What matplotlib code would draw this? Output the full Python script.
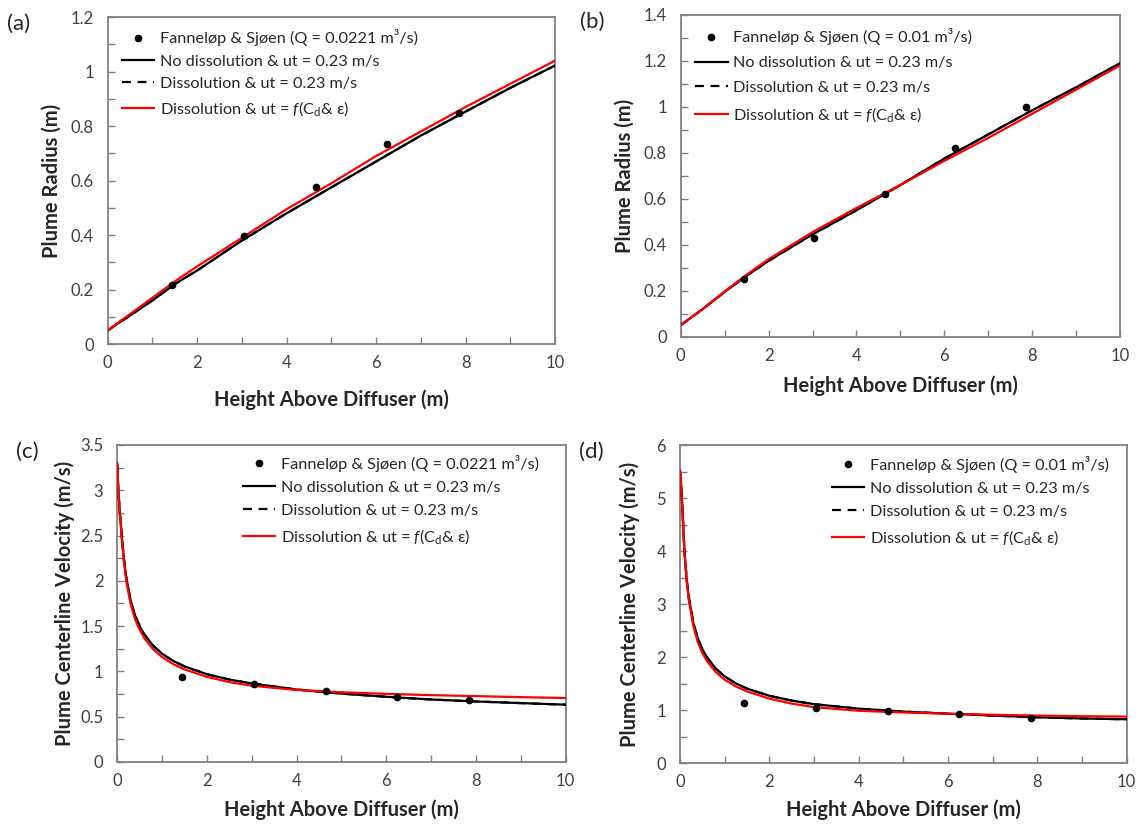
import matplotlib
matplotlib.use("Agg")
import matplotlib.pyplot as plt
from matplotlib.ticker import MultipleLocator, FuncFormatter

plt.rcParams["font.family"] = ["Lato", "DejaVu Sans"]
plt.rcParams["mathtext.fontset"] = "custom"
plt.rcParams["mathtext.rm"] = "Lato"
plt.rcParams["mathtext.it"] = "Lato:italic"

# measured points (Fanneløp & Sjøen)
obs_h = [1.44, 3.04, 4.65, 6.25, 7.85]
obs_r_a = [0.215, 0.395, 0.578, 0.735, 0.846]
obs_r_b = [0.25, 0.43, 0.622, 0.82, 1.0]
obs_v_c = [0.937, 0.86, 0.783, 0.72, 0.68]
obs_v_d = [1.13, 1.05, 0.99, 0.925, 0.85]

# model output, plume radius
h_r = [0, 0.25, 0.5, 1, 1.5, 2, 3, 4, 5, 6, 7, 8, 9, 10]
r_nodis_a = [0.05, 0.078, 0.105, 0.16, 0.22, 0.27, 0.38, 0.48, 0.575, 0.67, 0.765, 0.853, 0.94, 1.022]
r_dis_a = [0.05, 0.078, 0.105, 0.16, 0.22, 0.27, 0.38, 0.48, 0.575, 0.67, 0.765, 0.853, 0.94, 1.022]
r_fdis_a = [0.05, 0.081, 0.11, 0.17, 0.23, 0.285, 0.39, 0.495, 0.59, 0.69, 0.78, 0.87, 0.955, 1.04]
r_nodis_b = [0.05, 0.085, 0.12, 0.195, 0.265, 0.33, 0.445, 0.55, 0.66, 0.775, 0.88, 0.985, 1.085, 1.19]
r_dis_b = [0.05, 0.085, 0.12, 0.195, 0.265, 0.33, 0.445, 0.55, 0.66, 0.775, 0.88, 0.985, 1.085, 1.19]
r_fdis_b = [0.05, 0.086, 0.12, 0.197, 0.27, 0.337, 0.455, 0.56, 0.66, 0.765, 0.865, 0.97, 1.075, 1.18]

# model output, centerline velocity
h_v = [0, 0.02, 0.05, 0.1, 0.15, 0.2, 0.3, 0.4, 0.5, 0.6, 0.8, 1, 1.25, 1.5,
       2, 2.5, 3, 4, 5, 6, 7, 8, 9, 10]
v_nodis_c = [3.28, 3.04, 2.8, 2.5, 2.24, 2.04, 1.78, 1.615, 1.5, 1.41, 1.284, 1.195, 1.115, 1.055,
             0.969, 0.91, 0.867, 0.8, 0.755, 0.72, 0.69, 0.668, 0.65, 0.633]
v_dis_c = v_nodis_c
v_fdis_c = [3.30, 3.04, 2.78, 2.47, 2.2, 2.0, 1.74, 1.575, 1.46, 1.37, 1.245, 1.158, 1.08, 1.022,
            0.94, 0.882, 0.842, 0.795, 0.77, 0.752, 0.738, 0.727, 0.716, 0.706]
v_nodis_d = [5.5, 5.3, 4.85, 4.0, 3.46, 3.11, 2.64, 2.35, 2.15, 2.0, 1.786, 1.637, 1.506, 1.408,
             1.273, 1.182, 1.115, 1.03, 0.975, 0.935, 0.9, 0.868, 0.845, 0.83]
v_dis_d = v_nodis_d
v_fdis_d = [5.53, 5.32, 4.82, 3.97, 3.42, 3.06, 2.58, 2.28, 2.08, 1.93, 1.72, 1.575, 1.45, 1.355,
            1.22, 1.125, 1.06, 0.99, 0.958, 0.935, 0.915, 0.9, 0.888, 0.88]

lab_obs_a = "Fanneløp & Sjøen (Q = 0.0221 m³/s)"
lab_obs_b = "Fanneløp & Sjøen (Q = 0.01 m³/s)"
lab_nodis = "No dissolution & ut = 0.23 m/s"
lab_dis = "Dissolution & ut = 0.23 m/s"
lab_fdis = r"Dissolution & ut = $\mathit{f}$(C$_\mathregular{d}$& ε)"

fig = plt.figure(figsize=(11.45, 8.26), dpi=100)

panels = [
    # rect, letter, h grid, obs y, model lines, obs label, ytop, major, minor, ylabel,
    # legend anchor, labelspacing, ylabel x, xlabel y
    ([0.0941, 0.5835, 0.3907, 0.3959], "(a)", h_r, obs_r_a, (r_nodis_a, r_dis_a, r_fdis_a), lab_obs_a,
     1.2, 0.2, 0.1, "Plume Radius (m)", (0.031, 0.962), 0.49, -0.102, -0.138),
    ([0.5945, 0.5924, 0.3837, 0.3895], "(b)", h_r, obs_r_b, (r_nodis_b, r_dis_b, r_fdis_b), lab_obs_b,
     1.4, 0.2, 0.1, "Plume Radius (m)", (0.033, 0.958), 0.64, -0.104, -0.12),
    ([0.1024, 0.0775, 0.3916, 0.3838], "(c)", h_v, obs_v_c, (v_nodis_c, v_dis_c, v_fdis_c), lab_obs_a,
     3.5, 0.5, 0.25, "Plume Centerline Velocity (m/s)", (0.28, 0.969), 0.54, -0.094, -0.118),
    ([0.5939, 0.0759, 0.3901, 0.3853], "(d)", h_v, obs_v_d, (v_nodis_d, v_dis_d, v_fdis_d), lab_obs_b,
     6, 1, 0.5, "Plume Centerline Velocity (m/s)", (0.34, 0.966), 0.54, -0.09, -0.113),
]

fmt = FuncFormatter(lambda v, p: "{:g}".format(round(v, 3)))

for rect, letter, hx, obs_y, lines, obs_lab, ytop, ymaj, ymin, ylab, anchor, lsp, ylx, xly in panels:
    ax = fig.add_axes(rect)
    ax.plot(hx, lines[0], color="black", lw=1.6, label=lab_nodis, zorder=3)
    ax.plot(hx, lines[1], color="black", lw=1.6, ls=(0, (4, 3)), label=lab_dis, zorder=3)
    ax.plot(hx, lines[2], color="#ff0000", lw=1.6, label=lab_fdis, zorder=4)
    ax.plot(obs_h, obs_y, "o", color="black", ms=4.5, ls="none", label=obs_lab, zorder=5)

    ax.set_xlim(0, 10)
    ax.set_ylim(0, ytop)
    ax.xaxis.set_major_locator(MultipleLocator(2))
    ax.xaxis.set_minor_locator(MultipleLocator(1))
    ax.yaxis.set_major_locator(MultipleLocator(ymaj))
    ax.yaxis.set_minor_locator(MultipleLocator(ymin))
    ax.xaxis.set_major_formatter(fmt)
    ax.yaxis.set_major_formatter(fmt)
    ax.tick_params(which="both", direction="in", color="#808080", width=1.0, length=5,
                   labelsize=12, labelcolor="#404040")
    ax.tick_params(axis="x", pad=8)
    ax.tick_params(axis="y", pad=10)
    for s in ax.spines.values():
        s.set_color("#808080")
        s.set_linewidth(1.3)

    ax.set_xlabel("Height Above Diffuser (m)", fontsize=14.5, fontweight="bold", color="#262626")
    ax.set_ylabel(ylab, fontsize=14.5, fontweight="bold", color="#262626")
    ax.xaxis.set_label_coords(0.5, xly)
    ax.yaxis.set_label_coords(ylx, 0.5)

    h, l = ax.get_legend_handles_labels()
    order = [3, 0, 1, 2]
    ax.legend([h[i] for i in order], [l[i] for i in order], loc="upper left",
              bbox_to_anchor=anchor, frameon=False, fontsize=11.7, handlelength=2.0,
              handletextpad=0.35, borderpad=0, borderaxespad=0, labelspacing=lsp,
              labelcolor="#262626")

    fig.text(rect[0] - 0.088, rect[1] + rect[3] - 0.008, letter, fontsize=16,
             ha="left", va="center", color="#262626")

fig.savefig("out.png", dpi=100)
